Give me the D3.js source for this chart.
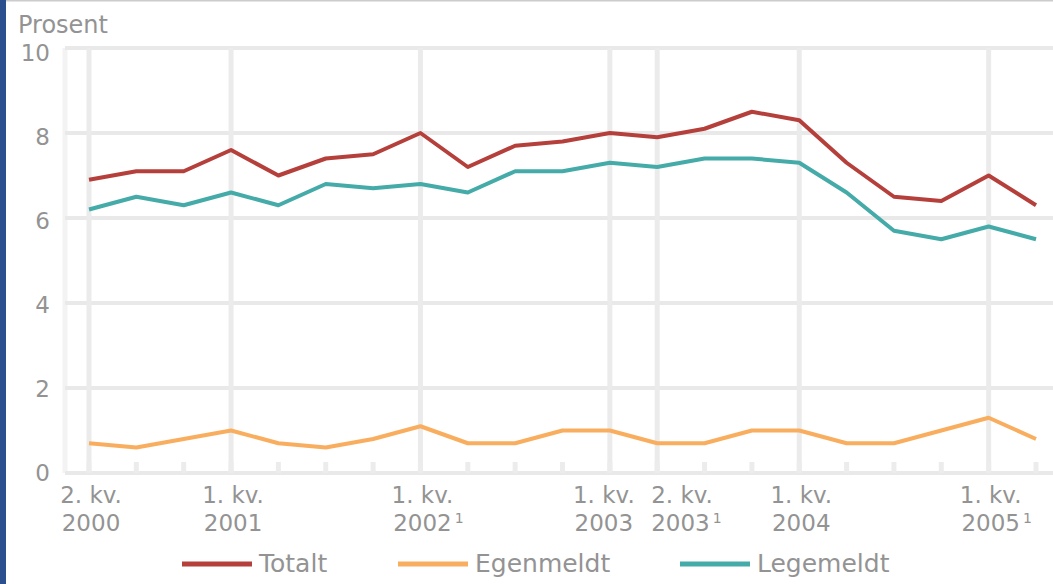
<!DOCTYPE html>
<html>
<head>
<meta charset="utf-8">
<script src="https://cdn.jsdelivr.net/npm/d3@7"></script>
<style>
  html, body { margin: 0; padding: 0; background: #fff; }
  svg { display: block; }
  text { font-family: "DejaVu Sans", sans-serif; fill: #939393; }
</style>
</head>
<body>
<svg id="chart" width="1053" height="584"></svg>
<script>
const quarters = [
  "2. kv. 2000","3. kv. 2000","4. kv. 2000",
  "1. kv. 2001","2. kv. 2001","3. kv. 2001","4. kv. 2001",
  "1. kv. 2002","2. kv. 2002","3. kv. 2002","4. kv. 2002",
  "1. kv. 2003","2. kv. 2003","3. kv. 2003","4. kv. 2003",
  "1. kv. 2004","2. kv. 2004","3. kv. 2004","4. kv. 2004",
  "1. kv. 2005","2. kv. 2005"
];
const totalt    = [6.9,7.1,7.1,7.6,7.0,7.4,7.5,8.0,7.2,7.7,7.8,8.0,7.9,8.1,8.5,8.3,7.3,6.5,6.4,7.0,6.3];
const egenmeldt = [0.7,0.6,0.8,1.0,0.7,0.6,0.8,1.1,0.7,0.7,1.0,1.0,0.7,0.7,1.0,1.0,0.7,0.7,1.0,1.3,0.8];
const legemeldt = [6.2,6.5,6.3,6.6,6.3,6.8,6.7,6.8,6.6,7.1,7.1,7.3,7.2,7.4,7.4,7.3,6.6,5.7,5.5,5.8,5.5];

const labelledQuarters = ["2. kv. 2000","1. kv. 2001","1. kv. 2002","1. kv. 2003","2. kv. 2003","1. kv. 2004","1. kv. 2005"];
const tickLine1 = ["2. kv.","1. kv.","1. kv.","1. kv.","2. kv.","1. kv.","1. kv."];
const tickLine2 = ["2000","2001","2002","2003","2003","2004","2005"];
const tickNote  = ["","","1","","1","","1"];
const yTicks = [0,2,4,6,8,10];

const seriesNames  = ["Totalt","Egenmeldt","Legemeldt"];
const seriesColors = ["#b5403b","#f9ae5f","#45aba9"];
const seriesValues = [totalt, egenmeldt, legemeldt];

const svg = d3.select("#chart");
const W = 1053, H = 584;

svg.append("rect").attr("width", W).attr("height", H).attr("fill", "#fff");
// blue strip at left edge
svg.append("rect").attr("x", 0).attr("y", 0).attr("width", 6).attr("height", H).attr("fill", "#2c4f8e");
// top border
svg.append("rect").attr("x", 6).attr("y", 0).attr("width", W - 6).attr("height", 1.5).attr("fill", "#cccccc");

const plotLeft = 65, plotRight = W;
const x = d3.scalePoint().domain(quarters).range([89, 1036]);
const y = d3.scaleLinear().domain([0, 10]).range([473, 48]);
const yLab = d3.scaleLinear().domain([0, 10]).range([473, 53]);

// y axis faint line
svg.append("line").attr("x1", plotLeft).attr("x2", plotLeft)
  .attr("y1", y(10)).attr("y2", y(0))
  .attr("stroke", "#f3f3f3").attr("stroke-width", 5);

// horizontal gridlines
svg.append("g").selectAll("line").data(yTicks).join("line")
  .attr("x1", plotLeft).attr("x2", plotRight)
  .attr("y1", d => y(d)).attr("y2", d => y(d))
  .attr("stroke", "#e9e9e9").attr("stroke-width", 4);

// vertical gridlines at labelled quarters
svg.append("g").selectAll("line").data(labelledQuarters).join("line")
  .attr("x1", d => x(d)).attr("x2", d => x(d))
  .attr("y1", y(10)).attr("y2", y(0))
  .attr("stroke", "#ebebeb").attr("stroke-width", 5);

// small quarter ticks above axis
svg.append("g").selectAll("line").data(quarters).join("line")
  .attr("x1", d => x(d)).attr("x2", d => x(d))
  .attr("y1", y(0) - 11).attr("y2", y(0))
  .attr("stroke", "#ececec").attr("stroke-width", 5);

// y labels
svg.append("g").selectAll("text").data(yTicks).join("text")
  .attr("x", 50).attr("y", d => yLab(d))
  .attr("dy", "0.36em")
  .attr("text-anchor", "end")
  .attr("font-size", 23)
  .text(d => d);

// y title
svg.append("text").attr("x", 18).attr("y", 33).attr("font-size", 24).text("Prosent");

// x labels: a label whose neighbour is only one quarter away is pushed apart
const qIndex = q => quarters.indexOf(q);
function labelLayout(d, i) {
  const prev = labelledQuarters[i - 1], next = labelledQuarters[i + 1];
  if (prev && qIndex(d) - qIndex(prev) === 1) return { anchor: "start", dx: -6 };
  if (next && qIndex(next) - qIndex(d) === 1) return { anchor: "middle", dx: -6 };
  return { anchor: "middle", dx: 2 };
}
const xl = svg.append("g").selectAll("g").data(labelledQuarters).join("g")
  .attr("transform", (d, i) => `translate(${x(d) + labelLayout(d, i).dx},0)`);
xl.append("text").attr("y", 503).attr("font-size", 23)
  .attr("text-anchor", (d, i) => labelLayout(d, i).anchor)
  .text((d, i) => tickLine1[i]);
const t2 = xl.append("text").attr("y", 531).attr("font-size", 23)
  .attr("text-anchor", (d, i) => labelLayout(d, i).anchor);
t2.append("tspan").text((d, i) => tickLine2[i]);
t2.append("tspan").attr("font-size", 14).attr("dx", 3).attr("dy", -8).text((d, i) => tickNote[i]);
t2.attr("dx", (d, i) => (tickNote[i] && labelLayout(d, i).anchor === "middle") ? 6 : 0);

// lines
const line = d3.line().x((d, i) => x(quarters[i])).y(d => y(d)).curve(d3.curveLinear);
svg.append("g").selectAll("path").data(seriesValues).join("path")
  .attr("d", d => line(d))
  .attr("fill", "none")
  .attr("stroke", (d, i) => seriesColors[i])
  .attr("stroke-width", 4)
  .attr("stroke-linejoin", "round")
  .attr("stroke-linecap", "butt");

// legend
const legendX = [182, 398, 680];
const lg = svg.append("g").selectAll("g").data(seriesNames).join("g")
  .attr("transform", (d, i) => `translate(${legendX[i]},564)`);
lg.append("line").attr("x1", 0).attr("x2", 70).attr("y1", 0).attr("y2", 0)
  .attr("stroke", (d, i) => seriesColors[i]).attr("stroke-width", 5);
lg.append("text").attr("x", 77).attr("y", 8).attr("font-size", 25).text(d => d);
</script>
</body>
</html>
